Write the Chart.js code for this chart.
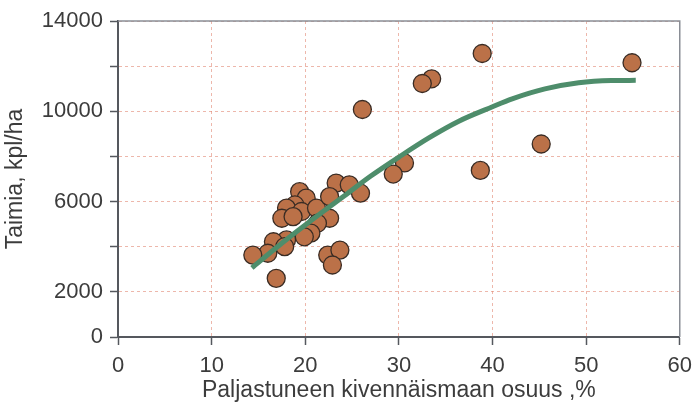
<!DOCTYPE html>
<html>
<head>
<meta charset="utf-8">
<script src="https://cdn.jsdelivr.net/npm/chart.js@4/dist/chart.umd.min.js"></script>
<style>
  html, body { margin: 0; padding: 0; background: #fff; }
  #wrap { width: 700px; height: 404px; }
</style>
</head>
<body>
<div id="wrap"><canvas id="chart" width="700" height="404"></canvas></div>
<script>
// havainnot (luettu kuvasta)
var pointX = [38.9, 54.9, 33.5, 32.5, 26.1, 45.2, 30.6, 29.4, 38.7,
    19.4, 20.1, 18.9, 18.0, 19.6, 17.5, 18.7, 21.2, 22.6, 21.3, 20.6, 19.9,
    18.0, 16.6, 17.8, 16.0, 14.4, 16.9, 22.4, 23.7, 22.9, 23.3, 24.7, 25.9, 22.6];
var pointY = [12560, 12150, 11440, 11230, 10080, 8550, 7710, 7220, 7380,
    6440, 6150, 5850, 5710, 5560, 5260, 5330, 5710, 5260, 5040, 4600, 4440,
    4300, 4220, 4000, 3710, 3630, 2600, 3630, 3850, 3190, 6820, 6740, 6370, 6220];

// trendikäyrä
var curveX = [14.3, 17, 20, 24, 27, 30, 33.2, 36.4, 40, 42.1, 45.6, 49.2, 52.7, 55.3];
var curveY = [3060, 3990, 4960, 6200, 7130, 7970, 8820, 9560, 10200, 10550, 10990, 11260, 11360, 11370];

var yLabels = [0, 2000, 6000, 10000, 14000];

var textColor = '#3c3c3c';
var gridColor = 'rgba(225,135,115,0.6)';
var axisColor = '#55585e';
var fontName = 'Liberation Sans, Arial, sans-serif';

function toXY(xs, ys) {
    var out = [];
    for (var i = 0; i < xs.length; i++) {
        out.push({x: xs[i], y: ys[i]});
    }
    return out;
}

// yläreuna ja oikea reuna
var frame = {
    id: 'frame',
    afterDraw: function (chart) {
        var a = chart.chartArea;
        var ctx = chart.ctx;
        ctx.save();
        ctx.strokeStyle = '#8a8e96';
        ctx.lineWidth = 1.5;
        ctx.beginPath();
        ctx.moveTo(a.left, a.top);
        ctx.lineTo(a.right, a.top);
        ctx.lineTo(a.right, a.bottom);
        ctx.stroke();
        ctx.restore();
    }
};

var config = {
    type: 'scatter',
    data: {
        datasets: [{
            type: 'line',
            data: toXY(curveX, curveY),
            borderColor: '#4e8d6b',
            borderWidth: 5,
            pointRadius: 0,
            cubicInterpolationMode: 'monotone',
            fill: false,
            order: 0
        }, {
            data: toXY(pointX, pointY),
            backgroundColor: '#bb7148',
            borderColor: '#3a2c24',
            borderWidth: 1.3,
            pointRadius: 9,
            order: 1
        }]
    },
    options: {
        responsive: false,
        animation: false,
        layout: { padding: { top: 21, right: 18, left: 0, bottom: 0 } },
        plugins: { legend: { display: false }, tooltip: { enabled: false } },
        scales: {
            x: {
                type: 'linear',
                min: 0, max: 60,
                afterFit: function (s) { s.height = 67; },
                ticks: { stepSize: 10, color: textColor, padding: 8,
                    font: { family: fontName, size: 22 } },
                grid: { color: gridColor, lineWidth: 1, tickColor: axisColor,
                    tickBorderDash: [], tickLength: 8, tickWidth: 1.5 },
                border: { color: axisColor, width: 2, dash: [3, 3] },
                title: { display: true, text: 'Paljastuneen kivennäismaan osuus ,%',
                    color: textColor, padding: { top: 0, bottom: 0 },
                    font: { family: fontName, size: 23 } }
            },
            y: {
                min: 0, max: 14000,
                afterFit: function (s) { s.width = 118; },
                ticks: {
                    stepSize: 2000, color: textColor, padding: 7,
                    font: { family: fontName, size: 22 },
                    callback: function (v) { return yLabels.indexOf(v) >= 0 ? String(v) : ''; }
                },
                grid: { color: gridColor, lineWidth: 1, tickColor: axisColor,
                    tickBorderDash: [], tickLength: 8, tickWidth: 1.5 },
                border: { color: axisColor, width: 2, dash: [3, 3] },
                title: { display: true, text: 'Taimia, kpl/ha', color: textColor,
                    padding: { top: 2, bottom: 0 },
                    font: { family: fontName, size: 23 } }
            }
        }
    },
    plugins: [frame]
};

var myChart = new Chart(document.getElementById('chart'), config);
</script>
</body>
</html>
